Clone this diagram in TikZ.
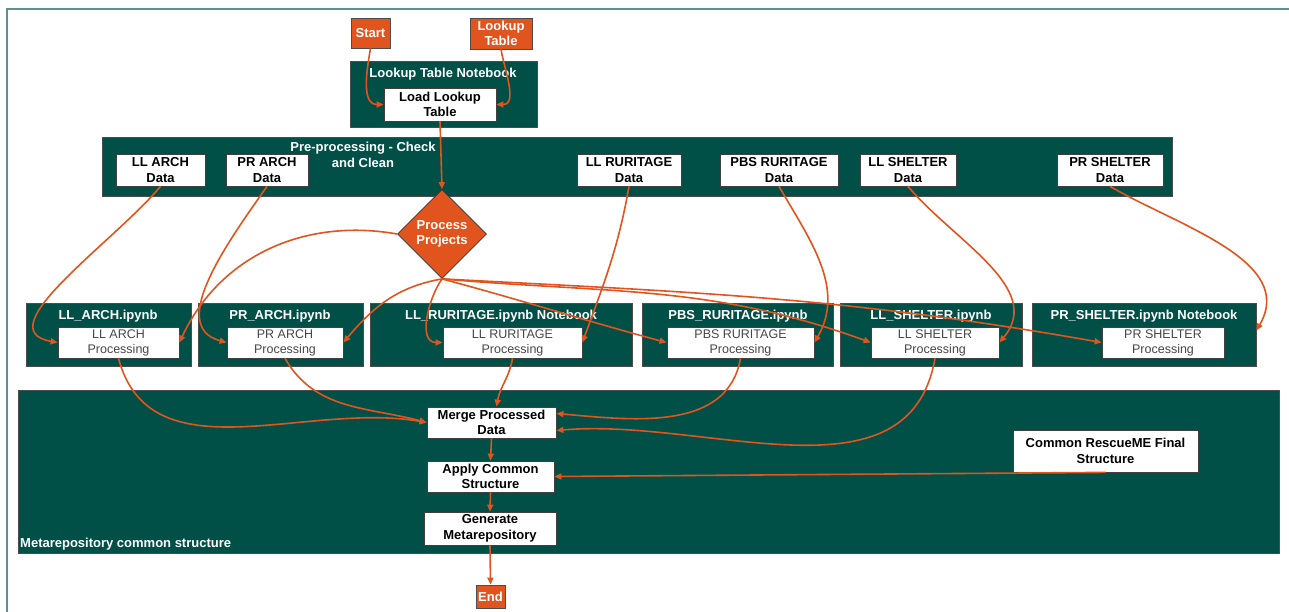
\documentclass[tikz,border=0pt]{standalone}
\usepackage{fontspec}
\setmainfont{Liberation Sans}
\usetikzlibrary{shapes.geometric,arrows.meta}
\definecolor{nbteal}{RGB}{0,80,72}
\definecolor{orng}{RGB}{226,84,30}
\definecolor{frame}{RGB}{95,145,145}
\newcommand\fs{\fontsize{13}{15.5}\selectfont}
\newcommand\fsp{\fontsize{12.5}{15}\selectfont}
\newcommand\bx[7]{\node[#6, minimum width={(#4)-(#2)}, minimum height={(#5)-(#3)}] (#1) at ({((#2)+(#4))/2},{((#3)+(#5))/2}) {#7};}
\tikzset{
  cont/.style={fill=nbteal, draw=black!70, line width=0.8pt, inner sep=0pt},
  wbox/.style={fill=white, draw=black!75, line width=0.8pt, inner sep=0pt, align=center, font=\bfseries\fs},
  pbox/.style={fill=white, draw=black!75, line width=0.8pt, inner sep=0pt, align=center, text=black!72, font=\fsp},
  obox/.style={fill=orng, draw=black!70, line width=0.8pt, inner sep=0pt, align=center, text=white, font=\bfseries\fs},
  ttl/.style={text=white, font=\bfseries\fs, align=center, inner sep=0pt},
  arr/.style={draw=orng, line width=1.6pt, -{Triangle[length=7pt,width=6pt]}},
}
\begin{document}
\begin{tikzpicture}[x=1pt,y=-1pt]
\useasboundingbox (0,0) rectangle (1289,612);
\fill[white] (0,0) rectangle (1289,612);
\draw[frame, line width=1.5pt] (7,612) -- (7,9) -- (1289,9);

% top
\bx{start}{351}{18}{390}{48}{obox}{Start}
\bx{lut}{470}{18}{532}{49}{obox}{Lookup\\Table}
\bx{ltn}{350}{61}{537}{127}{cont}{}
\node[ttl] (ltnT) at (443,74) {Lookup Table Notebook};
\bx{load}{384}{88}{496}{121}{wbox}{Load Lookup\\Table}

% pre-processing
\bx{pre}{102}{137}{1172}{196}{cont}{}
\node[ttl] (preT) at (363,155) {Pre-processing - Check\\and Clean};
\bx{d1}{116}{154}{205}{186}{wbox}{LL ARCH\\Data}
\bx{d2}{226}{154}{308}{186}{wbox}{PR ARCH\\Data}
\bx{d3}{577}{154}{681}{186}{wbox}{LL RURITAGE\\Data}
\bx{d4}{720}{154}{838}{186}{wbox}{PBS RURITAGE\\Data}
\bx{d5}{860}{154}{956}{186}{wbox}{LL SHELTER\\Data}
\bx{d6}{1057}{154}{1163}{186}{wbox}{PR SHELTER\\Data}

% decision
\node[diamond, aspect=1, fill=orng, draw=black!80, line width=0.8pt, inner sep=0pt,
      minimum width=89pt, minimum height=89pt, text=white, font=\bfseries\fs, align=center]
      (proc) at (442,234) {Process\\Projects};

% notebooks
\bx{n1}{26}{303}{191}{366}{cont}{}
\node[ttl] (n1T) at (108,316) {LL\_ARCH.ipynb};
\bx{p1}{58}{327}{179}{358}{pbox}{LL ARCH\\Processing}
\bx{n2}{198}{303}{363}{366}{cont}{}
\node[ttl] (n2T) at (280,316) {PR\_ARCH.ipynb};
\bx{p2}{227}{327}{343}{358}{pbox}{PR ARCH\\Processing}
\bx{n3}{370}{303}{632}{366}{cont}{}
\node[ttl] (n3T) at (501,316) {LL\_RURITAGE.ipynb Notebook};
\bx{p3}{443}{327}{582}{358}{pbox}{LL RURITAGE\\Processing}
\bx{n4}{642}{303}{833}{366}{cont}{}
\node[ttl] (n4T) at (738,316) {PBS\_RURITAGE.ipynb};
\bx{p4}{667}{327}{814}{358}{pbox}{PBS RURITAGE\\Processing}
\bx{n5}{840}{303}{1022}{366}{cont}{}
\node[ttl] (n5T) at (931,316) {LL\_SHELTER.ipynb};
\bx{p5}{871}{327}{999}{358}{pbox}{LL SHELTER\\Processing}
\bx{n6}{1032}{303}{1256}{366}{cont}{}
\node[ttl] (n6T) at (1144,316) {PR\_SHELTER.ipynb Notebook};
\bx{p6}{1102}{327}{1224}{358}{pbox}{PR SHELTER\\Processing}

% metarepository
\bx{meta}{18}{390}{1279}{553}{cont}{}
\node[ttl, anchor=west] (metaT) at (20,544) {Metarepository common structure};
\bx{merge}{427}{407}{556}{438}{wbox}{Merge Processed\\Data}
\bx{apply}{427}{461}{554}{492}{wbox}{Apply Common\\Structure}
\bx{gen}{424}{512}{556}{545}{wbox}{Generate\\Metarepository}
\bx{common}{1013}{430}{1198}{472}{wbox}{Common RescueME Final\\Structure}
\bx{endn}{476}{585}{505}{608}{obox}{End}

% connectors
\draw[arr] (start.south) to[out=-100,in=180] (load.west);
\draw[arr] (lut.south) to[out=-80,in=0] (load.east);
\draw[arr] (load.south) -- (proc.north);

\draw[arr] (proc.west) to[out=170,in=65] (p1.east);
\draw[arr] (proc.south) to[out=190,in=50] (p2.east);
\draw[arr] (proc.south) to[out=235,in=180] (p3.west);
\draw[arr] (proc.south) to[out=-15,in=165] (p4.west);
\draw[arr] (proc.south) to[out=-5,in=160] (p5.west);
\draw[arr] (proc.south) to[out=-3,in=170] (p6.west);

\draw[arr] (d1.south) to[out=-130,in=170] (p1.west);
\draw[arr] (d2.south) to[out=-125,in=165] (p2.west);
\draw[arr] (d3.south) to[out=-100,in=70] (p3.east);
\draw[arr] (d4.south) to[out=-60,in=60] (p4.east);
\draw[arr] (d5.south) to[out=-50,in=50] (p5.east);
\draw[arr] (d6.south) to[out=-30,in=60] ([yshift=4pt]n6.east);

\draw[arr] (p1.south) to[out=-75,in=170] (merge.west);
\draw[arr] (p2.south) to[out=-60,in=165] (merge.west);
\draw[arr] (p3.south) to[out=-100,in=80] ([xshift=5pt]merge.north);
\draw[arr] (p4.south) to[out=-100,in=-5] ([yshift=9pt]merge.east);
\draw[arr] (p5.south) to[out=-100,in=5] ([yshift=-8pt]merge.east);

\draw[arr] (merge.south) -- (apply.north);
\draw[arr] (common.south) -- (apply.east);
\draw[arr] (apply.south) -- (gen.north);
\draw[arr] (gen.south) -- (endn.north);
\end{tikzpicture}
\end{document}
